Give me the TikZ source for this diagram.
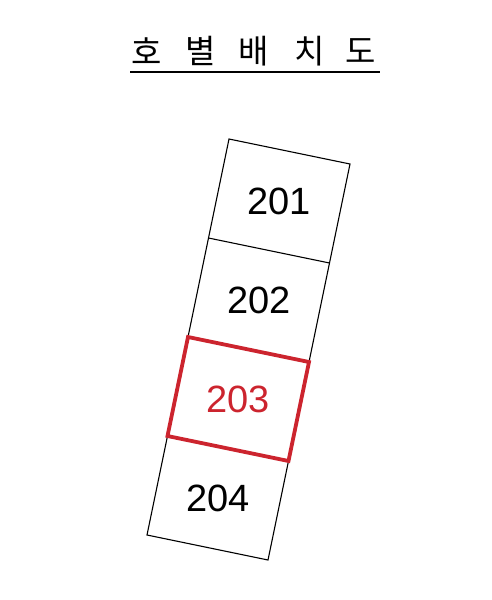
\documentclass[tikz,border=0pt]{standalone}
\usetikzlibrary{calc}
\usepackage{fontspec}
\setmainfont{Liberation Sans}
\newfontfamily\krfont{Noto Sans CJK KR}
\definecolor{hired}{RGB}{204,36,46}
\begin{document}
\begin{tikzpicture}[x=1pt,y=-1pt,
  title/.style={font=\krfont\fontsize{33}{33}\selectfont,inner sep=0pt,anchor=center},
  unitlabel/.style={font=\fontsize{38}{38}\selectfont,inner sep=0pt},
  outline/.style={draw=black,line width=1.1pt,line join=miter},
  hilite/.style={draw=hired,line width=3.8pt,line join=miter}]
\useasboundingbox (0,0) rectangle (491,600);
% title
\node[title] (t1) at (147,51) {호};
\node[title] (t2) at (201,51) {별};
\node[title] (t3) at (254,51) {배};
\node[title] (t4) at (310,51) {치};
\node[title] (t5) at (361,51) {도};
\coordinate (ul) at (130,72);
\coordinate (ur) at (380,72);
\draw[line width=1.3pt] (ul) -- (ur);
% corners
\coordinate (P0) at (229,139);   \coordinate (Q0) at (350,164);
\coordinate (P1) at (208.5,238); \coordinate (Q1) at (329.5,263);
\coordinate (P2) at (188,337);   \coordinate (Q2) at (309,362);
\coordinate (P3) at (167.5,436); \coordinate (Q3) at (288.5,461);
\coordinate (P4) at (147,535);   \coordinate (Q4) at (268,560);
% black outline
\draw[outline] (P0) -- (Q0) -- (Q4) -- (P4) -- cycle;
\draw[outline] (P1) -- (Q1);
\draw[outline] (P3) -- (Q3);
\draw[outline] (P2) -- (Q2);
% highlighted unit
\draw[hilite] (P2) -- (Q2) -- (Q3) -- (P3) -- cycle;
% labels
\node[unitlabel] (u201) at ($(P0)!0.5!(Q1)$) {201};
\node[unitlabel] (u202) at ($(P1)!0.5!(Q2)$) {202};
\node[unitlabel,text=hired] (u203) at ($(P2)!0.5!(Q3)$) {203};
\node[unitlabel] (u204) at ($(P3)!0.5!(Q4)$) {204};
\end{tikzpicture}
\end{document}
